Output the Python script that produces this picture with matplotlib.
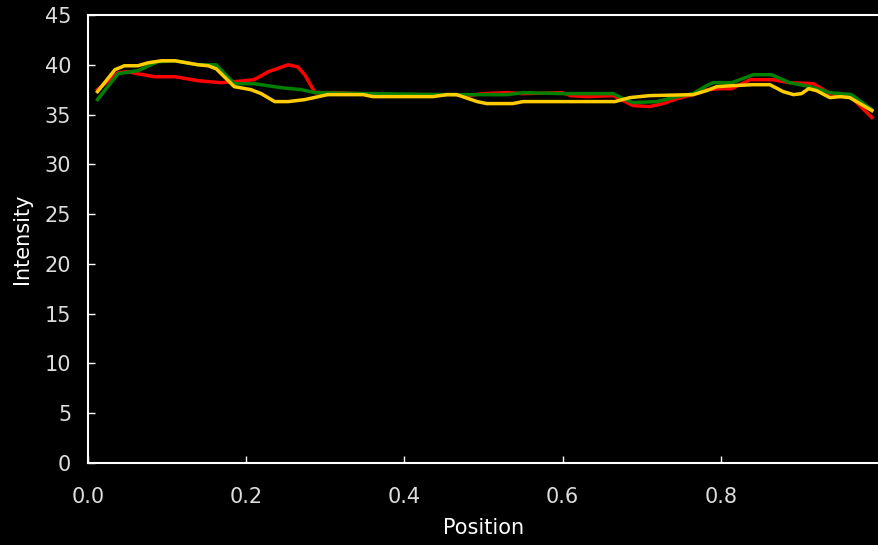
import matplotlib.pyplot as plt

# profile data
red_x = [0.012, 0.038, 0.05, 0.063, 0.084, 0.11, 0.139, 0.168, 0.185, 0.21, 0.228, 0.253, 0.265, 0.274,
         0.287, 0.32, 0.36, 0.44, 0.46, 0.48, 0.5, 0.53, 0.55, 0.6, 0.61, 0.63, 0.664, 0.689, 0.71, 0.727,
         0.745, 0.765, 0.782, 0.8, 0.814, 0.837, 0.866, 0.887, 0.917, 0.938, 0.963, 0.991]
red_y = [37.5, 39.2, 39.3, 39.1, 38.8, 38.8, 38.4, 38.2, 38.3, 38.5, 39.3, 40.0, 39.8, 39.0,
         37.2, 37.2, 37.0, 37.0, 37.0, 36.9, 37.1, 37.2, 37.1, 37.2, 36.9, 36.8, 36.9, 35.9, 35.8, 36.1,
         36.6, 37.0, 37.5, 37.6, 37.6, 38.5, 38.5, 38.2, 38.1, 37.1, 36.9, 34.7]

green_x = [0.012, 0.038, 0.063, 0.088, 0.11, 0.139, 0.162, 0.185, 0.21, 0.244, 0.27, 0.287, 0.36, 0.45,
           0.48, 0.53, 0.55, 0.6, 0.664, 0.676, 0.689, 0.719, 0.745, 0.765, 0.782, 0.79, 0.814, 0.841,
           0.864, 0.887, 0.913, 0.938, 0.965, 0.991]
green_y = [36.5, 39.1, 39.4, 40.3, 40.4, 40.0, 40.0, 38.1, 38.1, 37.7, 37.5, 37.2, 37.1, 37.0,
           37.0, 37.0, 37.2, 37.1, 37.1, 36.6, 36.2, 36.3, 36.8, 37.1, 37.9, 38.2, 38.2, 39.0,
           39.0, 38.2, 37.8, 37.2, 37.0, 35.5]

yellow_x = [0.012, 0.034, 0.046, 0.063, 0.076, 0.093, 0.11, 0.139, 0.152, 0.162, 0.185, 0.206, 0.219,
            0.236, 0.253, 0.274, 0.303, 0.348, 0.36, 0.436, 0.454, 0.466, 0.492, 0.504, 0.537, 0.55,
            0.666, 0.685, 0.71, 0.765, 0.782, 0.795, 0.814, 0.841, 0.862, 0.879, 0.892, 0.902, 0.911,
            0.921, 0.938, 0.951, 0.963, 0.991]
yellow_y = [37.3, 39.5, 39.9, 39.9, 40.2, 40.4, 40.4, 40.0, 39.9, 39.6, 37.8, 37.5, 37.1,
            36.3, 36.3, 36.5, 37.0, 37.0, 36.8, 36.8, 37.0, 37.0, 36.3, 36.1, 36.1, 36.3,
            36.3, 36.7, 36.9, 37.0, 37.4, 37.8, 37.9, 38.0, 38.0, 37.3, 37.0, 37.1, 37.6,
            37.4, 36.7, 36.8, 36.7, 35.4]

plt.rcParams['font.family'] = ['DejaVu Sans']

fig = plt.figure(figsize=(8.79, 5.45), dpi=100, facecolor='black')
ax = fig.add_axes([0.1001, 0.1505, 0.8999, 0.822])
ax.set_facecolor('black')

ax.plot(red_x, red_y, color='#ff0000', lw=2.5)
ax.plot(green_x, green_y, color='#008000', lw=2.5)
ax.plot(yellow_x, yellow_y, color='#ffcc00', lw=2.5)

ax.set_xlim(0, 1.0)
ax.set_ylim(0, 45)
ax.set_xticks([0.0, 0.2, 0.4, 0.6, 0.8])
ax.set_xticklabels(['0.0', '0.2', '0.4', '0.6', '0.8'])
ax.set_yticks(range(0, 46, 5))

for s in ['left', 'bottom', 'top']:
    ax.spines[s].set_color('white')
    ax.spines[s].set_linewidth(1.5)
ax.spines['right'].set_visible(False)

ax.tick_params(axis='both', direction='in', colors='white', labelcolor='#dddddd',
               length=5, width=1, labelsize=15)
ax.tick_params(axis='x', pad=17)
ax.tick_params(axis='y', pad=12)

ax.set_xlabel('Position', color='white', fontsize=15, labelpad=8)
ax.set_ylabel('Intensity', color='white', fontsize=15, labelpad=9)

fig.savefig('out.png', dpi=100, facecolor='black')
